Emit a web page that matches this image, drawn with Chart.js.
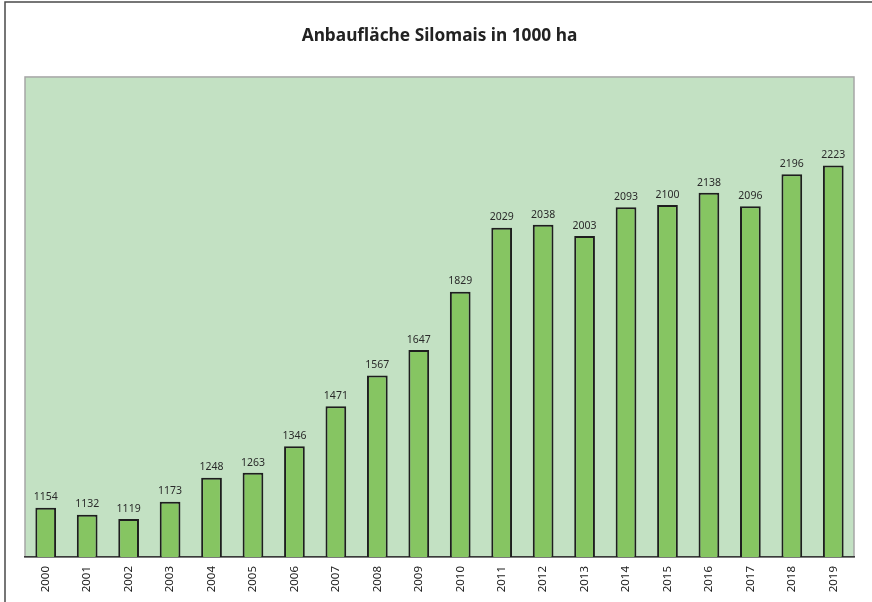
<!DOCTYPE html>
<html>
<head>
<meta charset="utf-8">
<style>
  html, body { margin: 0; padding: 0; background: #ffffff; }
  #wrap { width: 872px; height: 602px; position: relative; }
</style>
<script src="https://cdn.jsdelivr.net/npm/chart.js@4.4.0/dist/chart.umd.min.js"></script>
</head>
<body>
<div id="wrap"><canvas id="grafico-silomais" width="872" height="602"></canvas></div>
<script>
const jahre = ['2000', '2001', '2002', '2003', '2004', '2005', '2006', '2007', '2008', '2009',
    '2010', '2011', '2012', '2013', '2014', '2015', '2016', '2017', '2018', '2019'];
const flaeche = [1154, 1132, 1119, 1173, 1248, 1263, 1346, 1471, 1567, 1647,
    1829, 2029, 2038, 2003, 2093, 2100, 2138, 2096, 2196, 2223];
const titel = 'Anbaufläche Silomais in 1000 ha';

const schrift = '"Noto Sans", "Open Sans", sans-serif';

// Hintergrund, Rahmen und Werte über den Balken
const rahmenPlugin = {
    id: 'rahmen',
    beforeDraw(chart) {
        const ctx = chart.ctx;
        const a = chart.chartArea;
        ctx.save();
        ctx.fillStyle = '#c3e1c3';
        ctx.fillRect(a.left, a.top, a.right - a.left, a.bottom - a.top);
        ctx.strokeStyle = '#a6a6a6';
        ctx.lineWidth = 1.5;
        ctx.strokeRect(a.left, a.top, a.right - a.left, a.bottom - a.top);
        // äußere Linien links und oben
        ctx.strokeStyle = '#4a4a4a';
        ctx.lineWidth = 1.5;
        ctx.beginPath();
        ctx.moveTo(5, chart.height);
        ctx.lineTo(5, 2);
        ctx.lineTo(chart.width, 2);
        ctx.stroke();
        ctx.restore();
    },
    afterDatasetsDraw(chart) {
        const ctx = chart.ctx;
        const meta = chart.getDatasetMeta(0);
        ctx.save();
        ctx.fillStyle = '#2a2a2a';
        ctx.font = '10.5px ' + schrift;
        ctx.textAlign = 'center';
        ctx.textBaseline = 'bottom';
        meta.data.forEach((balken, i) => {
            ctx.fillText(String(flaeche[i]), balken.x, balken.y - 5);
        });
        ctx.restore();
    }
};

const grafico = new Chart(document.getElementById('grafico-silomais').getContext('2d'), {
    type: 'bar',
    data: {
        labels: jahre,
        datasets: [{
            data: flaeche,
            backgroundColor: '#86c562',
            borderColor: '#1e1e1e',
            borderWidth: 2,
            borderSkipped: 'start',
            barPercentage: 1,
            categoryPercentage: 0.5
        }]
    },
    options: {
        responsive: false,
        animation: false,
        layout: { padding: { top: 0, left: 25, right: 18, bottom: 0 } },
        scales: {
            y: { display: false, min: 1000, max: 2500 },
            x: {
                grid: { display: false },
                border: { display: true, color: '#3a3a3a', width: 1.5 },
                ticks: {
                    color: '#222222',
                    font: { family: schrift, size: 11.5 },
                    minRotation: 90,
                    maxRotation: 90,
                    padding: 1,
                    autoSkip: false
                },
                afterFit(scale) { scale.height = 45; }
            }
        },
        plugins: {
            legend: { display: false },
            tooltip: { enabled: false },
            title: {
                display: true,
                text: titel,
                color: '#222222',
                font: { family: schrift, size: 17.3, weight: 'bold', lineHeight: 1.2 },
                padding: { top: 26, bottom: 30.2 }
            }
        }
    },
    plugins: [rahmenPlugin]
});
</script>
</body>
</html>
